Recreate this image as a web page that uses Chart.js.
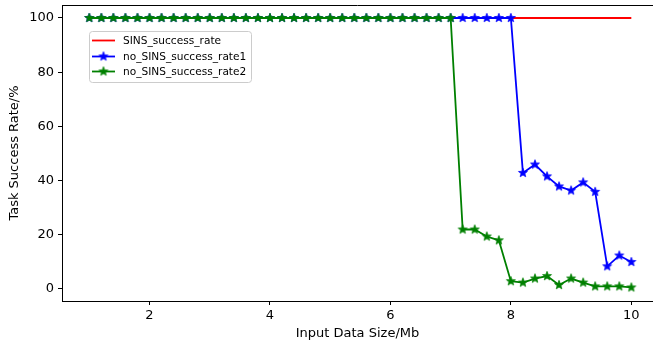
<!DOCTYPE html>
<html>
<head>
<meta charset="utf-8">
<script src="https://cdn.jsdelivr.net/npm/chart.js@4.4.1/dist/chart.umd.min.js"></script>
<style>
html,body{margin:0;padding:0;background:#fff;}
canvas{display:block;}
</style>
</head>
<body>
<canvas id="c" width="653" height="343"></canvas>
<script>
const xValues = [1.0,1.2,1.4,1.6,1.8,2.0,2.2,2.4,2.6,2.8,3.0,3.2,3.4,3.6,3.8,4.0,4.2,4.4,4.6,4.8,5.0,5.2,5.4,5.6,5.8,6.0,6.2,6.4,6.6,6.8,7.0,7.2,7.4,7.6,7.8,8.0,8.2,8.4,8.6,8.8,9.0,9.2,9.4,9.6,9.8,10.0];
const sinsRate = [100,100,100,100,100,100,100,100,100,100,100,100,100,100,100,100,100,100,100,100,100,100,100,100,100,100,100,100,100,100,100,100,100,100,100,100,100,100,100,100,100,100,100,100,100,100];
const noSinsRate1 = [100,100,100,100,100,100,100,100,100,100,100,100,100,100,100,100,100,100,100,100,100,100,100,100,100,100,100,100,100,100,100,100,100,100,100,100,42.8,45.9,41.5,37.8,36.3,39.3,35.8,8.3,12.3,9.9];
const noSinsRate2 = [100,100,100,100,100,100,100,100,100,100,100,100,100,100,100,100,100,100,100,100,100,100,100,100,100,100,100,100,100,100,100,21.9,21.9,19.3,17.9,2.8,2.3,3.8,4.7,1.4,3.8,2.3,0.9,0.9,0.9,0.5];
const seriesNames = ['SINS_success_rate','no_SINS_success_rate1','no_SINS_success_rate2'];
const xTicks = [2,4,6,8,10];
const yTicks = [0,20,40,60,80,100];

const FONT = "'DejaVu Sans', sans-serif";

function starCanvas(color, r) {
  const s = Math.ceil(r * 2 + 2);
  const cv = document.createElement('canvas');
  cv.width = s; cv.height = s;
  const g = cv.getContext('2d');
  const cx = s / 2, cy = s / 2;
  g.beginPath();
  for (let i = 0; i < 10; i++) {
    const rad = (i % 2 === 0) ? r : r * 0.42;
    const a = -Math.PI / 2 + i * Math.PI / 5;
    const px = cx + rad * Math.cos(a), py = cy + rad * Math.sin(a);
    if (i === 0) g.moveTo(px, py); else g.lineTo(px, py);
  }
  g.closePath();
  g.fillStyle = color;
  g.fill();
  g.lineWidth = 0.8;
  g.strokeStyle = color;
  g.stroke();
  return cv;
}

const blueStar = starCanvas('#0000ff', 4.7);
const greenStar = starCanvas('#008000', 4.7);

function pts(arr) { return xValues.map((x, i) => ({x: x, y: arr[i]})); }

const legendPlugin = {
  id: 'innerLegend',
  afterDraw(chart) {
    const ctx = chart.ctx;
    ctx.save();
    ctx.strokeStyle = '#000';
    ctx.lineWidth = 1;
    ctx.beginPath();
    ctx.moveTo(chart.chartArea.left, chart.chartArea.top + 0.5);
    ctx.lineTo(chart.chartArea.right, chart.chartArea.top + 0.5);
    ctx.stroke();

    const bx = 89.5, by = 31.5, bw = 162, bh = 51, rr = 3;
    ctx.beginPath();
    ctx.moveTo(bx + rr, by);
    ctx.lineTo(bx + bw - rr, by);
    ctx.quadraticCurveTo(bx + bw, by, bx + bw, by + rr);
    ctx.lineTo(bx + bw, by + bh - rr);
    ctx.quadraticCurveTo(bx + bw, by + bh, bx + bw - rr, by + bh);
    ctx.lineTo(bx + rr, by + bh);
    ctx.quadraticCurveTo(bx, by + bh, bx, by + bh - rr);
    ctx.lineTo(bx, by + rr);
    ctx.quadraticCurveTo(bx, by, bx + rr, by);
    ctx.closePath();
    ctx.fillStyle = 'rgba(255,255,255,0.8)';
    ctx.fill();
    ctx.strokeStyle = '#cccccc';
    ctx.lineWidth = 1;
    ctx.stroke();

    const rows = [40.5, 56.5, 71.5];
    const colors = ['#ff0000', '#0000ff', '#008000'];
    const marks = [null, blueStar, greenStar];
    ctx.font = '10.6px ' + FONT;
    ctx.textBaseline = 'middle';
    ctx.textAlign = 'left';
    for (let i = 0; i < 3; i++) {
      ctx.strokeStyle = colors[i];
      ctx.lineWidth = 1.8;
      ctx.beginPath();
      ctx.moveTo(92, rows[i]);
      ctx.lineTo(115, rows[i]);
      ctx.stroke();
      if (marks[i]) {
        const m = marks[i];
        ctx.drawImage(m, 103.5 - m.width / 2, rows[i] - m.height / 2);
      }
      ctx.fillStyle = '#000';
      ctx.fillText(seriesNames[i], 123, rows[i] + 0.5);
    }
    ctx.restore();
  }
};

new Chart(document.getElementById('c'), {
  type: 'line',
  data: {
    datasets: [
      {label: seriesNames[0], data: pts(sinsRate), borderColor: '#ff0000', borderWidth: 1.8, pointRadius: 0, order: 3},
      {label: seriesNames[1], data: pts(noSinsRate1), borderColor: '#0000ff', backgroundColor: '#0000ff', borderWidth: 1.8, pointStyle: blueStar, pointRadius: 5, order: 2},
      {label: seriesNames[2], data: pts(noSinsRate2), borderColor: '#008000', backgroundColor: '#008000', borderWidth: 1.8, pointStyle: greenStar, pointRadius: 5, order: 1}
    ]
  },
  options: {
    responsive: false,
    animation: false,
    devicePixelRatio: 1,
    layout: {autoPadding: false, padding: {top: 5, right: 0, left: 0, bottom: 0}},
    plugins: {legend: {display: false}, tooltip: {enabled: false}},
    elements: {line: {tension: 0}},
    scales: {
      x: {
        type: 'linear',
        min: 0.547,
        max: 10.36,
        afterFit(s) { s.height = 42; s.paddingLeft = 0; s.paddingRight = 0; },
        afterBuildTicks(s) { s.ticks = xTicks.map(v => ({value: v})); },
        grid: {drawOnChartArea: false, tickLength: 4, tickColor: '#000', tickWidth: 1},
        border: {display: true, color: '#000', width: 1},
        ticks: {color: '#000', font: {family: FONT, size: 13}, padding: 3, maxRotation: 0},
        title: {display: true, text: 'Input Data Size/Mb', color: '#000', font: {family: FONT, size: 13}, padding: {top: 0, bottom: 2}}
      },
      y: {
        type: 'linear',
        min: -4.5,
        max: 104.8,
        afterFit(s) { s.width = 62; s.paddingTop = 0; s.paddingBottom = 0; },
        afterBuildTicks(s) { s.ticks = yTicks.map(v => ({value: v})); },
        grid: {drawOnChartArea: false, tickLength: 4, tickColor: '#000', tickWidth: 1},
        border: {display: true, color: '#000', width: 1},
        ticks: {color: '#000', font: {family: FONT, size: 13}, padding: 4},
        title: {display: true, text: 'Task Success Rate/%', color: '#000', font: {family: FONT, size: 13}, padding: {top: 7, bottom: 0}}
      }
    }
  },
  plugins: [legendPlugin]
});
</script>
</body>
</html>
